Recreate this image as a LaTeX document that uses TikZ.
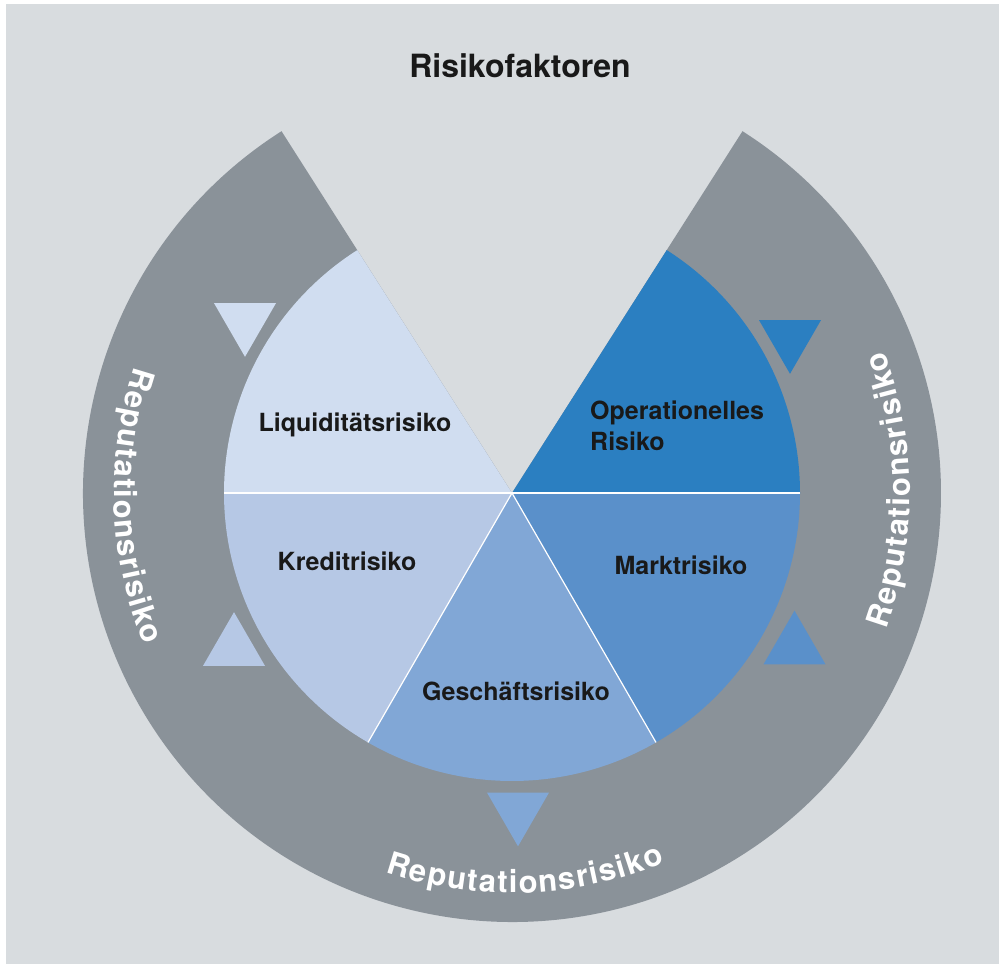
\documentclass[tikz,border=0pt]{standalone}
\usepackage{fontspec}
\setmainfont{TeX Gyre Heros}
\usetikzlibrary{shapes.geometric,decorations.text}
\definecolor{bgGray}{HTML}{D8DCDF}
\definecolor{ringGray}{HTML}{8A9299}
\definecolor{liqBlue}{HTML}{D0DDF0}
\definecolor{kredBlue}{HTML}{B6C8E5}
\definecolor{geschBlue}{HTML}{81A7D6}
\definecolor{marktBlue}{HTML}{5A90CA}
\definecolor{opBlue}{HTML}{2B7FC1}
\newcommand\ringfont{\fontsize{31}{31}\selectfont\bfseries}
\tikzset{
  titlelbl/.style={font=\fontsize{32}{32}\selectfont\bfseries, text=black!90, inner sep=0pt},
  lbl/.style={font=\fontsize{25}{31}\selectfont\bfseries, text=black!90, anchor=base, inner sep=0pt},
  tri/.style={regular polygon, regular polygon sides=3, minimum size=71.6pt, inner sep=0pt},
  tridown/.style={tri, shape border rotate=180},
  sep/.style={white, line width=1.2pt},
  ringtext/.style={decorate, decoration={text along path, text={|\ringfont|Reputationsrisiko}, text align=fit to path, text color=white}}
}
\begin{document}
\begin{tikzpicture}[x=1pt,y=1pt]
\useasboundingbox (0,0) rectangle (999,964);
\fill[white] (0,0) rectangle (999,964);
\fill[bgGray] (6,0) rectangle (999,960);
\coordinate (c) at (512,471);
\fill[ringGray] (c) -- ++(122.5:429) arc[start angle=122.5, end angle=417.5, radius=429] -- cycle;
\fill[liqBlue] (c) -- ++(122.5:288) arc[start angle=122.5, end angle=180, radius=288] -- cycle;
\fill[kredBlue] (c) -- ++(180:288) arc[start angle=180, end angle=240, radius=288] -- cycle;
\fill[geschBlue] (c) -- ++(240:288) arc[start angle=240, end angle=300, radius=288] -- cycle;
\fill[marktBlue] (c) -- ++(300:288) arc[start angle=300, end angle=360, radius=288] -- cycle;
\fill[opBlue] (c) -- ++(0:288) arc[start angle=0, end angle=57.5, radius=288] -- cycle;
\foreach \a in {0,180,240,300}
  \draw[sep] (c) -- ++(\a:288);
\node[tridown, fill=liqBlue] (tliq) at (245,643) {};
\node[tri, fill=kredBlue] (tkred) at (234,316) {};
\node[tridown, fill=geschBlue] (tgesch) at (518,153.5) {};
\node[tri, fill=marktBlue] (tmarkt) at (794.5,317.5) {};
\node[tridown, fill=opBlue] (top) at (790,626) {};
\node[titlelbl] (title) at (520,898) {Risikofaktoren};
\node[lbl] (liq) at (355,532) {Liquiditätsrisiko};
\node[lbl] (kred) at (347,393) {Kreditrisiko};
\node[lbl] (gesch) at (516,263) {Geschäftsrisiko};
\node[lbl] (markt) at (681,389) {Marktrisiko};
\node[lbl, anchor=west, align=left] (op) at (590,538) {Operationelles\\Risiko};
\path[ringtext] ([shift={(161.5:398)}]c) arc[start angle=161.5, end angle=202.5, radius=398];
\path[ringtext] ([shift={(-20:398)}]c) arc[start angle=-20, end angle=21, radius=398];
\path[ringtext] ([shift={(251.5:400)}]c) arc[start angle=251.5, end angle=292.5, radius=400];
\end{tikzpicture}
\end{document}
